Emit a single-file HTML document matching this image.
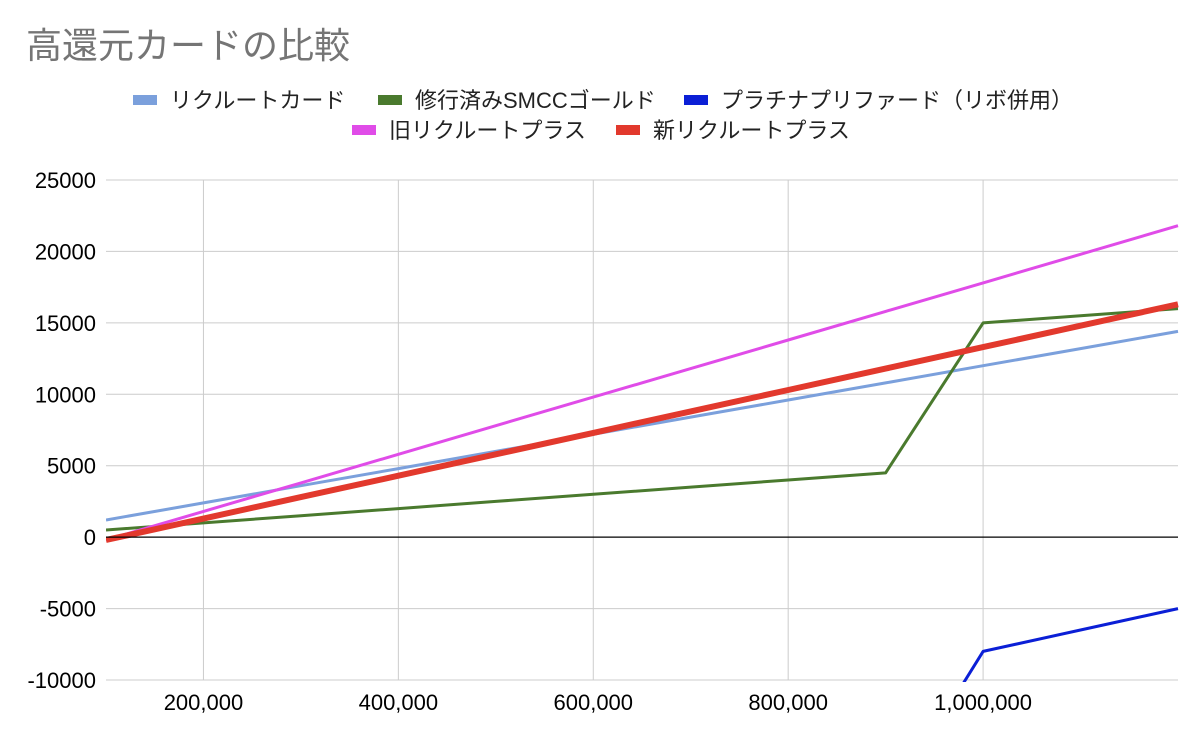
<!DOCTYPE html>
<html><head><meta charset="utf-8">
<style>
html,body{margin:0;padding:0;background:#fff;width:1200px;height:742px;overflow:hidden;font-family:"Liberation Sans","Noto Sans CJK JP",sans-serif;}
svg{display:block;}
</style></head>
<body>
<svg id="chart" width="1200" height="742" xmlns="http://www.w3.org/2000/svg" font-family="Liberation Sans, Noto Sans CJK JP, sans-serif">
<text x="26" y="58" font-size="36" fill="#757575">高還元カードの比較</text>
<g id="legend"></g>
<defs><clipPath id="plotclip"><rect x="106" y="178" width="1074" height="504"/></clipPath></defs>
<g id="grid"></g>
<g id="series" clip-path="url(#plotclip)"></g>
<g id="axes"></g>
</svg>
<script>
const xValues=[100000,200000,300000,400000,500000,600000,700000,800000,900000,1000000,1100000,1200000];
const recruitCard=[1200,2400,3600,4800,6000,7200,8400,9600,10800,12000,13200,14400];
const smccGold=[500,1000,1500,2000,2500,3000,3500,4000,4500,15000,15500,16000];
const platinum=[null,null,null,null,null,null,null,null,-19000,-8000,-6500,-5000];
const oldRecruitPlus=[-200,1800,3800,5800,7800,9800,11800,13800,15800,17800,19800,21800];
const newRecruitPlus=[-200,1300,2800,4300,5800,7300,8800,10300,11800,13300,14800,16300];
const yTicks=[25000,20000,15000,10000,5000,0,-5000,-10000];
const xTicks=[200000,400000,600000,800000,1000000];
const xTickLabels=["200,000","400,000","600,000","800,000","1,000,000"];
const seriesNames=["リクルートカード","修行済みSMCCゴールド","プラチナプリファード（リボ併用）","旧リクルートプラス","新リクルートプラス"];
const seriesColors=["#7ba0dc","#4a7a2e","#0b1fd6","#e04ce8","#e2392d"];
const seriesWidths=[3,3,3,3,6];
const seriesData=[recruitCard,smccGold,platinum,oldRecruitPlus,newRecruitPlus];
const seriesKeys=["recruit-card","smcc-gold","platinum-preferred","old-recruit-plus","new-recruit-plus"];

const X0=106,X1=1178,Y0=180,Y1=680;
const xMin=100000,xMax=1200000,yMin=-10000,yMax=25000;
const sx=v=>X0+(v-xMin)/(xMax-xMin)*(X1-X0);
const sy=v=>Y1-(v-yMin)/(yMax-yMin)*(Y1-Y0);
const NS="http://www.w3.org/2000/svg";
function mk(tag,attrs,parent){const e=document.createElementNS(NS,tag);for(const k in attrs)e.setAttribute(k,attrs[k]);parent.appendChild(e);return e;}

const grid=document.getElementById('grid'),axes=document.getElementById('axes'),series=document.getElementById('series'),legend=document.getElementById('legend');
yTicks.forEach(t=>{
  const l=mk('line',{x1:X0,x2:X1,y1:sy(t),y2:sy(t),stroke:t===0?'#000':'#cccccc','stroke-width':t===0?1.3:1},t===0?axes:grid);
  
  
  const tx=mk('text',{x:96,y:sy(t)+8,'text-anchor':'end','font-size':'22',fill:'#000'},axes);
  tx.textContent=t;
  
  
});
xTicks.forEach((t,i)=>{
  const l=mk('line',{x1:sx(t),x2:sx(t),y1:Y0,y2:Y1,stroke:'#cccccc','stroke-width':1},grid);
  
  
  const tx=mk('text',{x:sx(t),y:710,'text-anchor':'middle','font-size':'22',fill:'#000'},axes);
  tx.textContent=xTickLabels[i];
  
  
});
seriesData.forEach((d,si)=>{
  let pts=[];
  d.forEach((v,i)=>{if(v!==null)pts.push(sx(xValues[i]).toFixed(1)+','+sy(v).toFixed(1));});
  const p=mk('polyline',{points:pts.join(' '),fill:'none',stroke:seriesColors[si],'stroke-width':seriesWidths[si],'stroke-linejoin':'round'},series);
  
  
});
const legendPos=[[133,100],[378,100],[684,100],[352,130],[616,130]];
seriesNames.forEach((n,i)=>{
  const [x,y]=legendPos[i];
  const g=mk('g',{},legend);
  
  
  mk('rect',{x:x,y:y-5,width:24,height:10,fill:seriesColors[i]},g);
  const t=mk('text',{x:x+37,y:y+8,'font-size':'22',fill:'#222'},g);
  t.textContent=n;
});
</script>
</body></html>
